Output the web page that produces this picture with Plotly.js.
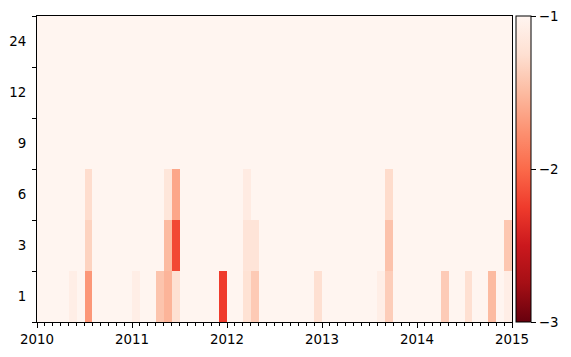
<!DOCTYPE html>
<html>
<head>
<meta charset="utf-8">
<script src="https://cdn.plot.ly/plotly-3.0.1.min.js"></script>
<style>html,body{margin:0;padding:0;background:#fff;}#chart{width:571px;height:357px;}</style>
</head>
<body>
<div id="chart"></div>
<script>
// Row (y) categories, bottom to top
const rowLabels = ["1", "3", "6", "9", "12", "24"];
// Year tick labels
const yearLabels = ["2010", "2011", "2012", "2013", "2014", "2015"];
// Monthly values Jan 2010 .. Dec 2014 for each row
const row1 = [
  -1, -1, -1, -1, -1.08, -1, -1.72, -1, -1, -1, -1, -1,
  -1.08, -1, -1, -1.44, -1.54, -1.24, -1, -1, -1, -1, -1, -2.25,
  -1, -1, -1.23, -1.4, -1, -1, -1, -1, -1, -1, -1, -1.25,
  -1, -1, -1, -1, -1, -1, -1, -1.08, -1.38, -1, -1, -1,
  -1, -1, -1, -1.39, -1, -1, -1.25, -1, -1, -1.5, -1, -1.08
];
const row3 = [
  -1, -1, -1, -1, -1, -1, -1.34, -1, -1, -1, -1, -1,
  -1, -1, -1, -1, -1.5, -2.18, -1, -1, -1, -1, -1, -1,
  -1, -1, -1.2, -1.2, -1, -1, -1, -1, -1, -1, -1, -1,
  -1, -1, -1, -1, -1, -1, -1, -1, -1.45, -1, -1, -1,
  -1, -1, -1, -1, -1, -1, -1, -1, -1, -1, -1, -1.42
];
const row6 = [
  -1, -1, -1, -1, -1, -1, -1.27, -1, -1, -1, -1, -1,
  -1, -1, -1, -1, -1.18, -1.62, -1, -1, -1, -1, -1, -1,
  -1, -1, -1.12, -1, -1, -1, -1, -1, -1, -1, -1, -1,
  -1, -1, -1, -1, -1, -1, -1, -1, -1.28, -1, -1, -1,
  -1, -1, -1, -1, -1, -1, -1, -1, -1, -1, -1, -1
];
const row9 = [
  -1, -1, -1, -1, -1, -1, -1, -1, -1, -1, -1, -1,
  -1, -1, -1, -1, -1, -1, -1, -1, -1, -1, -1, -1,
  -1, -1, -1, -1, -1, -1, -1, -1, -1, -1, -1, -1,
  -1, -1, -1, -1, -1, -1, -1, -1, -1, -1, -1, -1,
  -1, -1, -1, -1, -1, -1, -1, -1, -1, -1, -1, -1
];
const row12 = row9.slice();
const row24 = row9.slice();

const zRows = [row1, row3, row6, row9, row12, row24];
const nMonths = row1.length;
const xCenters = row1.map((_, i) => i + 0.5);
const yIdx = rowLabels.map((_, i) => i);

// matplotlib "Reds" reversed
const redsR = [
  [0, '#67000d'], [0.125, '#a50f15'], [0.25, '#cb181d'], [0.375, '#ef3b2c'],
  [0.5, '#fb6a4a'], [0.625, '#fc9272'], [0.75, '#fcbba1'], [0.875, '#fee0d2'], [1, '#fff5f0']
];

const font = {family: 'DejaVu Sans, sans-serif', size: 13.4, color: '#000'};

const trace = {
  type: 'heatmap',
  x: xCenters,
  y: yIdx,
  z: zRows,
  zmin: -3,
  zmax: -1,
  colorscale: redsR,
  hoverinfo: 'skip',
  colorbar: {
    x: 1.009, xanchor: 'left', xpad: 0, ypad: 0,
    y: 0.5, yanchor: 'middle', len: 1, lenmode: 'fraction',
    thickness: 15, thicknessmode: 'pixels',
    outlinewidth: 1, outlinecolor: '#000',
    tickvals: [-3, -2, -1], ticktext: ['\u22123', '\u22122', '\u22121'],
    ticks: 'outside', ticklen: 5, tickwidth: 1, tickcolor: '#000',
    tickfont: font
  }
};

const layout = {
  width: 571, height: 357,
  margin: {l: 37, r: 59, t: 16, b: 35, pad: 0, autoexpand: false},
  paper_bgcolor: '#fff', plot_bgcolor: '#fff',
  font: font,
  showlegend: false,
  xaxis: {
    range: [0, nMonths], autorange: false,
    tickvals: yearLabels.map((_, i) => i * 12),
    ticktext: yearLabels,
    ticks: 'outside', ticklen: 5, tickwidth: 1, tickcolor: '#000',
    minor: {dtick: 1, tick0: 0, ticks: 'outside', ticklen: 3, tickwidth: 1, tickcolor: '#000', showgrid: false},
    showline: true, linecolor: '#000', linewidth: 1, mirror: true,
    showgrid: false, zeroline: false, tickfont: font
  },
  yaxis: {
    range: [-0.5, rowLabels.length - 0.5], autorange: false,
    tickvals: yIdx, ticktext: rowLabels,
    ticks: 'outside', ticklen: 0, tickwidth: 1, tickcolor: '#000',
    ticklabelstandoff: 7,
    minor: {dtick: 1, tick0: 0.5, ticks: 'outside', ticklen: 4, tickwidth: 1, tickcolor: '#000', showgrid: false},
    showline: true, linecolor: '#000', linewidth: 1, mirror: true,
    showgrid: false, zeroline: false, tickfont: font
  }
};

Plotly.newPlot('chart', [trace], layout, {displayModeBar: false, staticPlot: true});
</script>
</body>
</html>
